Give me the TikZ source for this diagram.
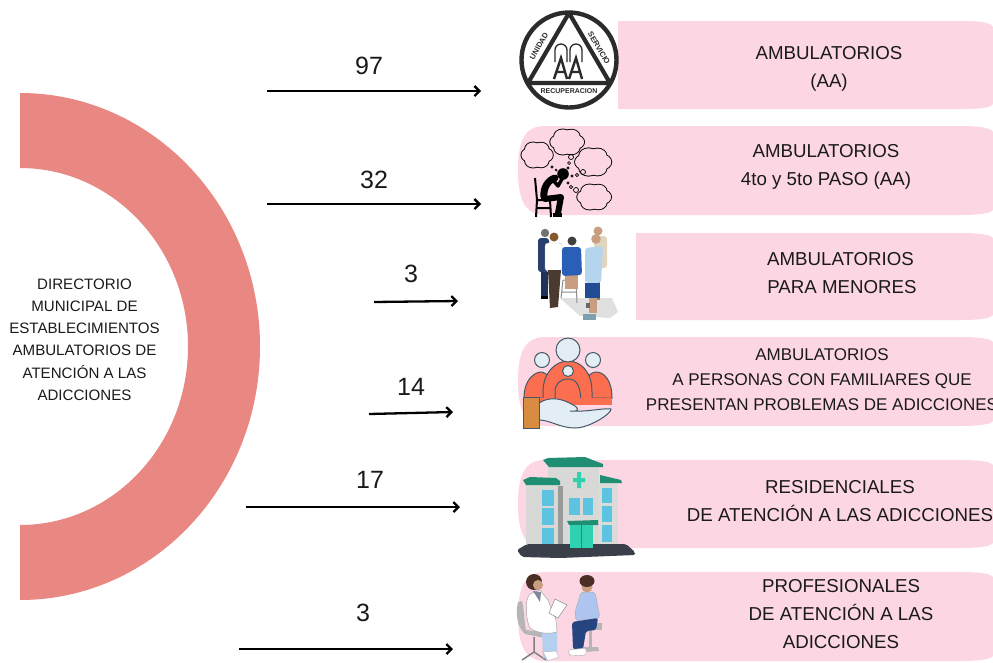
\documentclass[tikz,border=0pt]{standalone}
\usepackage{fontspec}
\setmainfont{Liberation Sans}
\usetikzlibrary{arrows.meta}
\definecolor{bandpink}{HTML}{FCD7E3}
\definecolor{ringred}{HTML}{E98783}
\definecolor{ink}{HTML}{1A1A1A}
\definecolor{logoink}{HTML}{2B2B2B}
\definecolor{iconred}{HTML}{FB6E50}
\definecolor{iconpale}{HTML}{E3EDF4}
\definecolor{iconline}{HTML}{44586A}
\definecolor{roofteal}{HTML}{1F8E72}
\definecolor{aqua}{HTML}{2ED1B0}
\definecolor{glass}{HTML}{5CC4E0}
\definecolor{wallg}{HTML}{D8D8D6}
\definecolor{wallshade}{HTML}{9A9A98}
\definecolor{basedark}{HTML}{3A3F4A}
\definecolor{shirtblue}{HTML}{2A5FB8}
\definecolor{navyman}{HTML}{27406F}
\definecolor{pants}{HTML}{4A3A30}
\definecolor{skyshirt}{HTML}{B5D4EE}
\definecolor{shorts}{HTML}{1F4C92}
\definecolor{tanman}{HTML}{E0D5BE}
\definecolor{skin}{HTML}{C99D80}
\definecolor{hair}{HTML}{4A2E26}
\definecolor{patshirt}{HTML}{AFC4EE}
\definecolor{patpants}{HTML}{26447F}
\definecolor{docleg}{HTML}{B5CFF0}
\definecolor{chairg}{HTML}{B5B5B5}
\tikzset{
 x=1pt,y=-1pt,
 flow/.style={-{Straight Barb[length=5pt,width=10pt]},line width=2.3pt,black},
 count/.style={font=\fontsize{25}{28}\selectfont,text=ink,inner sep=0pt},
 lab/.style={font=\fontsize{18.7}{28}\selectfont,text=ink,align=center,inner sep=0pt},
 labs/.style={font=\fontsize{17}{25}\selectfont,text=ink,align=center,inner sep=0pt},
 dirlab/.style={font=\fontsize{15.1}{22.2}\selectfont,text=ink,align=center,inner sep=0pt},
 band/.style={fill=bandpink,draw=none},
 logotext/.style={font=\bfseries\fontsize{#1}{9}\selectfont,inner sep=0pt,text=logoink},
 limb/.style={line width=#1,line cap=round,line join=round,black},
}
% scalloped cloud: centre x, centre y, half width, half height
\newcommand{\cloudat}[4]{%
 \foreach \ca/\cr in {0/.62,60/.6,120/.62,180/.6,240/.62,300/.6}{%
  \draw[black,line width=1.8pt] ({#1+#3*.6*cos(\ca)},{#2+#4*.6*sin(\ca)}) ellipse[x radius=#3*\cr,y radius=#4*\cr];}
 \foreach \ca/\cr in {0/.62,60/.6,120/.62,180/.6,240/.62,300/.6}{%
  \fill[bandpink] ({#1+#3*.6*cos(\ca)},{#2+#4*.6*sin(\ca)}) ellipse[x radius=#3*\cr,y radius=#4*\cr];}
 \fill[bandpink] (#1,#2) ellipse[x radius=#3*.7,y radius=#4*.7];}
\begin{document}
\begin{tikzpicture}
\useasboundingbox (0,0) rectangle (993,662);
\fill[white] (0,0) rectangle (993,662);
% half ring
\fill[ringred] (20,93) arc[start angle=-90,end angle=90,x radius=240,y radius=253.5]
 -- (20,525) arc[start angle=90,end angle=-90,x radius=168,y radius=178.5] -- cycle;
\node[dirlab] (dir) at (84.5,339.5) {DIRECTORIO\\MUNICIPAL DE\\ESTABLECIMIENTOS\\AMBULATORIOS DE\\ATENCIÓN A LAS\\ADICCIONES};
% bands
\path[band] (618,21) -- (960,21) .. controls (980,21) and (990,22) .. (993,27) -- (993,104) .. controls (990,108) and (980,109) .. (960,109) -- (618,109) -- cycle;
\path[band] (993,132) .. controls (990,127) and (975,126) .. (960,126) -- (545,126) .. controls (525,126) and (518,140) .. (518,170) .. controls (518,200) and (525,215) .. (545,215) -- (960,215) .. controls (975,215) and (990,214) .. (993,210) -- cycle;
\path[band] (636,233) -- (960,233) .. controls (975,233) and (990,234) .. (993,238) -- (993,315) .. controls (990,319) and (975,320) .. (960,320) -- (636,320) -- cycle;
\path[band] (993,342) .. controls (990,338) and (975,337) .. (960,337) -- (545,337) .. controls (525,337) and (518,352) .. (518,381) .. controls (518,410) and (525,426) .. (545,426) -- (960,426) .. controls (975,426) and (990,425) .. (993,421) -- cycle;
\path[band] (993,465) .. controls (990,461) and (975,460) .. (960,460) -- (545,460) .. controls (525,460) and (518,475) .. (518,504) .. controls (518,533) and (525,548) .. (545,548) -- (960,548) .. controls (975,548) and (990,547) .. (993,543) -- cycle;
\path[band] (993,577) .. controls (990,573) and (975,572) .. (960,572) -- (545,572) .. controls (525,572) and (518,587) .. (518,616) .. controls (518,645) and (525,661) .. (545,661) -- (960,661) .. controls (975,661) and (990,660) .. (993,656) -- cycle;
% labels
\node[lab] (t1) at (829,69) {AMBULATORIOS\\(AA)};
\node[lab] (t2) at (826,167) {AMBULATORIOS\\4to y 5to PASO (AA)};
\node[lab] (t3) at (840.5,273) {AMBULATORIOS\\\hspace*{3pt}PARA MENORES};
\node[labs] (t4) at (822,379.5) {AMBULATORIOS\\A PERSONAS CON FAMILIARES QUE\\PRESENTAN PROBLEMAS DE ADICCIONES};
\node[lab] (t5) at (840,501.5) {RESIDENCIALES\\DE ATENCIÓN A LAS ADICCIONES};
\node[lab] (t6) at (841,614) {PROFESIONALES\\DE ATENCIÓN A LAS\\ADICCIONES};
% arrows
\coordinate (a1s) at (267,91); \coordinate (a1e) at (481,91);
\coordinate (a2s) at (267,204); \coordinate (a2e) at (481,204);
\coordinate (a3s) at (374,302); \coordinate (a3e) at (458,301);
\coordinate (a4s) at (369,414); \coordinate (a4e) at (453,412);
\coordinate (a5s) at (246,507); \coordinate (a5e) at (460,507);
\coordinate (a6s) at (239,649); \coordinate (a6e) at (453,649);
\foreach \k in {1,...,6} \draw[flow] (a\k s) -- (a\k e);
\node[count] (n1) at (369,66) {97};
\node[count] (n2) at (374,180) {32};
\node[count] (n3) at (411,274) {3};
\node[count] (n4) at (411,387) {14};
\node[count] (n5) at (370,480) {17};
\node[count] (n6) at (363,613) {3};
% icon 1: AA logo
\fill[white] (569,60) circle (48);
\draw[line width=4.4pt,draw=logoink] (569,60) circle (47.5);
\draw[line width=4.2pt,draw=logoink,line join=round] (569,13) -- (528,83) -- (610,83) -- cycle;
\node[logotext=7] (ic1a) at (569,91.5) {RECUPERACION};
\node[logotext=7.6,rotate=60] (ic1b) at (539,46) {UNIDAD};
\node[logotext=7.6,rotate=-60] (ic1c) at (599,48) {SERVICIO};
\draw[line width=1.3pt,draw=logoink] (555,62) -- (555,50) arc[start angle=180,end angle=360,radius=6] -- (567,62)
 (570,62) -- (570,50) arc[start angle=180,end angle=360,radius=6] -- (582,62);
\draw[line width=2.4pt,draw=logoink,line join=miter] (554,79) -- (561,58) -- (567,79) (557,72) -- (565,72)
 (569,79) -- (576,58) -- (582,79) (572,72) -- (580,72);
% icon 2: man thinking
\cloudat{537}{155}{13}{11}
\cloudat{567}{142}{14}{11}
\cloudat{593}{162}{15}{12}
\cloudat{594}{197}{14}{11}
\foreach \px/\py/\pr in {571/157/2.5,569/163/1.5,568/168/1.2,552/167/1.2,556/170/1,583/172/2.5,577/175/1.6,572/176/1.2,576/190/2.5,571/187/1.6,568/183/1.2}
 \draw[black,line width=.7pt] (\px,\py) circle (\pr);
\fill[black] (563,174) circle (5.8);
\draw[limb=7pt] (544,197) .. controls (543,188) and (548,180) .. (555,178);
\draw[limb=3.5pt] (553,180) -- (558,186) -- (562,179);
\draw[limb=6pt] (545,199) -- (561,197) -- (558,213);
\draw[limb=2pt,line cap=butt] (535,178) -- (537,200) -- (536,217) (537,200) -- (550,200) -- (551,217) (537,208) -- (551,208);
\fill[black] (553,213) rectangle (562,217);
% icon 3: group of people
\fill[white] (520,228) rectangle (636,322);
\fill[black!12] (560,298) -- (612,298) -- (618,312) -- (610,318) -- (580,316) -- cycle;
% back right man
\fill[skin] (598,231) circle (4.5);
\fill[tanman,rounded corners=3pt] (594,236) rectangle (607,268);
\fill[tanman!60!black] (594,268) rectangle (600,300);
% back left man
\fill[black!55] (545,233) circle (4.2);
\fill[navyman,rounded corners=3pt] (538,238) rectangle (549,272);
\fill[navyman!80!black] (541,272) rectangle (548,298);
\fill[black] (541,296) rectangle (548,299);
% woman white
\fill[brown!70!black] (554,237) circle (4.5);
\fill[white,draw=black!25,line width=.4pt,rounded corners=3pt] (545,243) rectangle (562,271);
\fill[pants] (548,270) -- (561,270) -- (558,307) -- (550,308) -- cycle;
% seated man, stool
\draw[black!45,line width=1pt] (563,280) -- (561,298) (576,280) -- (577,303) (563,280) -- (576,280) (562,292) -- (576,292);
\fill[skin] (565,275) rectangle (578,289);
\fill[black!75] (572,241) circle (4.5);
\fill[shirtblue,rounded corners=3pt] (562,247) -- (581,247) -- (582,275) -- (562,276) -- cycle;
% woman blue
\fill[skin] (596,239) circle (4.8);
\fill[skyshirt,rounded corners=3pt] (585,248) -- (603,246) -- (601,283) -- (585,283) -- cycle;
\fill[shorts] (585,283) rectangle (600,298);
\fill[skin] (589,298) rectangle (597,313);
\fill[black!60] (586,303) rectangle (590,308);
\fill[cyan!30!gray] (583,314) rectangle (596,320);
% icon 4: family and hand
\fill[iconred,draw=iconline,line width=1pt] (524,398) .. controls (524,378) and (536,372) .. (541,372) .. controls (545,372) and (555,378) .. (555,398) -- cycle;
\fill[iconred,draw=iconline,line width=1pt] (581,398) .. controls (581,378) and (592,372) .. (596,372) .. controls (604,372) and (612,380) .. (612,398) -- cycle;
\fill[iconred,draw=iconline,line width=1pt] (543,404) -- (543,392) .. controls (543,372) and (556,361) .. (568,361) .. controls (581,361) and (592,372) .. (592,392) -- (592,404) -- cycle;
\draw[fill=iconpale,draw=iconline,line width=1pt] (568,350) circle (12);
\draw[fill=iconpale,draw=iconline,line width=1pt] (542,360) circle (7.5);
\draw[fill=iconpale,draw=iconline,line width=1pt] (593,360) circle (7.5);
\draw[fill=iconpale,draw=iconline,line width=1pt] (568,371) circle (5.5);
\draw[iconline,line width=1pt] (555,405) -- (555,392) .. controls (555,384) and (560,379) .. (568,379) .. controls (576,379) and (581,384) .. (581,405);
\fill[iconred] (524,398) rectangle (612,405);
\draw[fill=iconpale,draw=iconline,line width=1pt] (539,403) .. controls (550,396) and (562,398) .. (575,406) .. controls (580,410) and (577,412) .. (570,411) .. controls (590,412) and (600,408) .. (611,409) .. controls (612,413) and (590,428) .. (575,428) .. controls (560,428) and (550,420) .. (539,420) -- cycle;
\draw[fill=brown!70!orange!90,draw=iconline,line width=1pt] (523,397) -- (539,397) -- (539,428) -- (523,428) -- cycle;
% icon 5: hospital
\fill[wallg] (526,484) -- (560,484) -- (560,546) -- (526,544) -- cycle;
\fill[wallg!92] (598,483) -- (618,483) -- (618,545) -- (598,545) -- cycle;
\fill[wallg] (548,463) -- (599,463) -- (599,548) -- (548,548) -- cycle;
\fill[wallshade] (558,486) rectangle (563,548);
\fill[basedark,rounded corners=2pt] (517,550) -- (527,544) -- (626,544) -- (635,552) -- (635,555) -- (560,558) -- (522,557) -- cycle;
\fill[roofteal] (548,458) -- (585,457) -- (603,464) -- (603,467) -- (549,467) -- (543,460) -- cycle;
\fill[roofteal] (523,480) -- (530,477) -- (556,478) -- (560,481) -- (560,485) -- (526,485) -- cycle;
\fill[roofteal] (600,475) -- (621,480) -- (622,483) -- (600,483) -- cycle;
\foreach \yy/\hh in {490/16,508/17,528/16} \fill[glass] (542,\yy) rectangle (554,\yy+\hh);
\foreach \yy/\hh in {488/15,506/16,525/17} \fill[glass] (602,\yy) rectangle (612,\yy+\hh);
\fill[glass] (569,498) rectangle (580,515);
\fill[glass] (583,498) rectangle (593,515);
\fill[aqua] (573,478) -- (577,478) -- (577,472) -- (581,472) -- (581,478) -- (585,478) -- (585,482) -- (581,482) -- (581,488) -- (577,488) -- (577,482) -- (573,482) -- cycle;
\fill[roofteal] (567,521) -- (598,520) -- (598,525) -- (569,525) -- cycle;
\fill[aqua] (570,525) rectangle (593,548);
\draw[roofteal,line width=.5pt] (581.5,525) -- (581.5,548);
% icon 6: doctor and patient
\fill[chairg] (518,602) .. controls (515,615) and (518,628) .. (525,634) -- (545,638) -- (543,632) -- (526,630) .. controls (524,620) and (524,608) .. (522,601) -- cycle;
\draw[black!50,line width=1.5pt] (534,637) -- (534,652) (522,660) -- (534,652) -- (546,660);
\fill[docleg] (542,632) -- (557,632) -- (557,658) -- (543,658) -- cycle;
\fill[white,draw=black!35,line width=.5pt] (530,594) .. controls (524,600) and (526,620) .. (530,628) .. controls (538,634) and (550,634) .. (557,632) -- (556,620) -- (548,600) -- (540,590) -- cycle;
\fill[hair] (534,582) circle (8);
\fill[skin] (538,585) circle (5);
\fill[iconline!70] (533,591) -- (541,592) -- (540,602) -- cycle;
\fill[white,draw=black!30,line width=.4pt] (543,652) -- (556,651) -- (559,657) -- (548,661) -- cycle;
\fill[white,draw=black!45,line width=.5pt] (555,599) -- (567,605) -- (558,618) -- (549,613) -- cycle;
\fill[chairg] (588,623) rectangle (602,630);
\fill[chairg] (589,630) rectangle (592,648);
\fill[chairg] (583,647) -- (598,647) -- (599,651) -- (583,652) -- cycle;
\fill[patshirt,draw=iconline!50,line width=.4pt,rounded corners=3pt] (581,592) -- (595,592) -- (600,618) -- (576,621) -- (575,612) -- cycle;
\fill[skin] (587,587) circle (5.5);
\fill[hair] (587,581) ellipse[x radius=7.5,y radius=6];
\fill[patpants,rounded corners=2pt] (572,622) -- (598,618) -- (596,630) -- (586,631) -- (583,649) -- (573,649) -- cycle;
\fill[white,draw=black!35,line width=.4pt,rounded corners=1.5pt] (568,650) -- (586,648) -- (586,655) -- (570,656) -- cycle;
\end{tikzpicture}
\end{document}
